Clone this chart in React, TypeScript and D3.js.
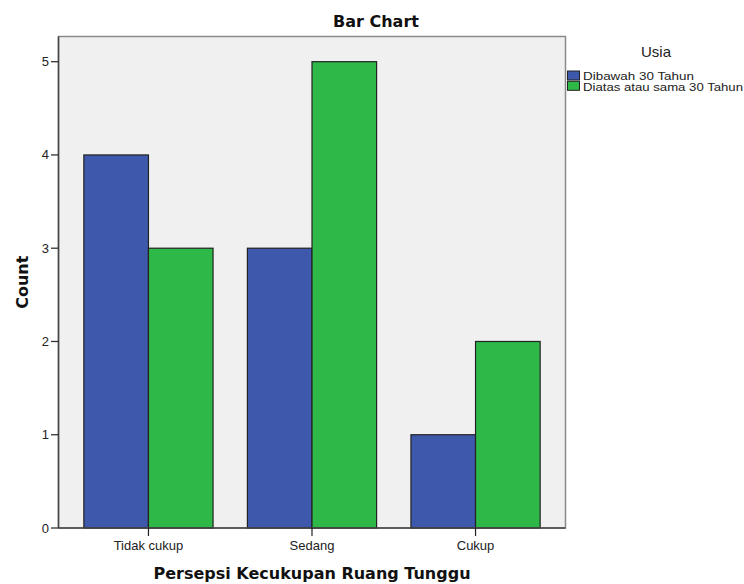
import React from "react";
import * as d3 from "d3";

const categories = ["Tidak cukup", "Sedang", "Cukup"];
const seriesNames = ["Dibawah 30 Tahun", "Diatas atau sama 30 Tahun"];
const seriesColors = ["#3E58AC", "#2EB848"];
const below30 = [4, 3, 1];
const above30 = [3, 5, 2];
const yTicks = [0, 1, 2, 3, 4, 5];
const seriesValues = [below30, above30];

const W = 744;
const H = 584;
const left = 58.5;
const right = 565.5;
const top = 36.5;
const bottom = 528;

export default function App() {
  const x = d3
    .scaleBand<string>()
    .domain(categories)
    .range([left, right])
    .paddingInner(0.21)
    .paddingOuter(0.155);
  const xs = d3
    .scaleBand<number>()
    .domain(d3.range(seriesNames.length))
    .range([0, x.bandwidth()])
    .padding(0);
  const y = d3.scaleLinear().domain([0, 5.27]).range([bottom, top]);

  const sans = "'Liberation Sans', Arial, sans-serif";
  const bold = "'DejaVu Sans', sans-serif";
  const legendWidths = [111, 160];

  return (
    <svg
      width={W}
      height={H}
      style={{ position: "absolute", left: 0, top: 0, background: "#fff" }}
    >
      <text
        x={376}
        y={27}
        textAnchor="middle"
        fontFamily={bold}
        fontWeight="bold"
        fontSize={16}
        fill="#111"
      >
        Bar Chart
      </text>
      <rect
        x={left}
        y={top}
        width={right - left}
        height={bottom - top}
        fill="#F0F0F0"
        stroke="#8a8a8a"
        strokeWidth={1.5}
      />
      {categories.map((c, ci) =>
        seriesValues.map((vals, si) => (
          <rect
            key={c + si}
            x={(x(c) as number) + (xs(si) as number)}
            y={y(vals[ci])}
            width={xs.bandwidth()}
            height={bottom - y(vals[ci])}
            fill={seriesColors[si]}
            stroke="#222"
            strokeWidth={1.2}
          />
        ))
      )}
      <line x1={left} x2={left} y1={top} y2={bottom} stroke="#444" strokeWidth={1.5} />
      <line x1={left} x2={right} y1={bottom} y2={bottom} stroke="#444" strokeWidth={1.5} />
      {yTicks.map((t) => (
        <g key={t}>
          <line x1={51} x2={left} y1={y(t)} y2={y(t)} stroke="#333" strokeWidth={1.3} />
          <text
            x={49}
            y={y(t) + 4.5}
            textAnchor="end"
            fontFamily={sans}
            fontSize={13}
            fill="#222"
          >
            {t}
          </text>
        </g>
      ))}
      {categories.map((c) => {
        const cx = (x(c) as number) + x.bandwidth() / 2;
        return (
          <g key={c}>
            <line x1={cx} x2={cx} y1={bottom} y2={536} stroke="#222" strokeWidth={1.2} />
            <text
              x={cx}
              y={549.5}
              textAnchor="middle"
              fontFamily={sans}
              fontSize={13}
              fill="#222"
            >
              {c}
            </text>
          </g>
        );
      })}
      <text
        x={(left + right) / 2}
        y={578.5}
        textAnchor="middle"
        fontFamily={bold}
        fontWeight="bold"
        fontSize={16}
        fill="#111"
      >
        Persepsi Kecukupan Ruang Tunggu
      </text>
      <text
        transform={`translate(28, ${(top + bottom) / 2}) rotate(-90)`}
        textAnchor="middle"
        fontFamily={bold}
        fontWeight="bold"
        fontSize={16}
        fill="#111"
      >
        Count
      </text>
      <text x={656} y={57} textAnchor="middle" fontFamily={sans} fontSize={15} fill="#222">
        Usia
      </text>
      {seriesNames.map((s, i) => (
        <g key={s}>
          <rect
            x={567.5}
            y={71 + i * 10.3}
            width={12}
            height={9}
            fill={seriesColors[i]}
            stroke="#222"
            strokeWidth={1}
          />
          <text
            x={583}
            y={80 + i * 10.5}
            fontFamily={sans}
            fontSize={11.5}
            textLength={legendWidths[i]}
            lengthAdjust="spacingAndGlyphs"
            fill="#222"
          >
            {s}
          </text>
        </g>
      ))}
    </svg>
  );
}
